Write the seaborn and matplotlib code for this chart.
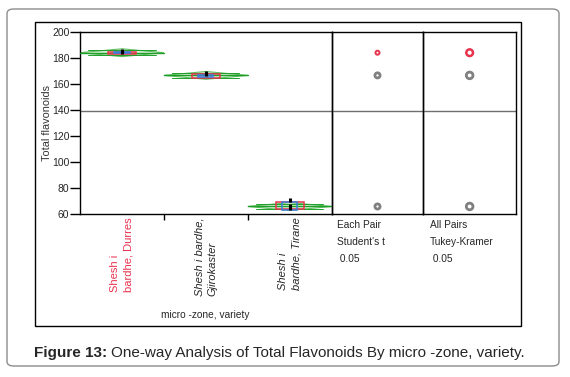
import numpy as np
import pandas as pd
import matplotlib
matplotlib.use("Agg")
import matplotlib.pyplot as plt
import seaborn as sns
from matplotlib.patches import Polygon, Rectangle, FancyBboxPatch

# ---------------- data ----------------
groups = ["Shesh i\nbardhe, Durres", "Shesh i bardhe,\nGjirokaster", "Shesh i\nbardhe, Tirane"]
means = [183.9, 166.5, 66.0]
ci_half = [3.0, 3.0, 3.0]
box_q1 = [183.0, 164.7, 63.8]
box_q3 = [184.7, 167.3, 69.7]
err_lo = [183.3, 165.5, 63.2]
err_hi = [184.6, 166.5, 69.2]
pt_group = [0, 0, 1, 1, 2, 2, 2]
pt_value = [184.8, 185.2, 167.6, 168.2, 70.8, 65.2, 66.2]
grand_mean = 139.0
yticks = [60, 80, 100, 120, 140, 160, 180, 200]
compare_titles = [["Each Pair", "Student's t", " 0.05"], ["All Pairs", "Tukey-Kramer", " 0.05"]]
selected = 0

RED = "#e8334f"
GRAY = "#808080"
BLUE = "#3c7ddc"
GREEN = "#1f9e2a"
LGREEN = "#d6efd6"
MGREEN = "#62bf62"

sns.set_style("white")
plt.rcParams["font.family"] = ["Liberation Sans", "DejaVu Sans"]

W, H = 570, 377
fig = plt.figure(figsize=(W / 100, H / 100), dpi=100)

def px_rect(x0, y0, x1, y1):
    return [x0 / W, 1 - y1 / H, (x1 - x0) / W, (y1 - y0) / H]

# caption frame
frame = FancyBboxPatch((7 / W, 1 - 366 / H), (559 - 7) / W, (366 - 9) / H,
                       boxstyle="round,pad=0,rounding_size=0.012",
                       transform=fig.transFigure, facecolor="white",
                       edgecolor="#8c8c8c", lw=1.0, zorder=-2)
fig.patches.append(frame)
# chart box
fig.patches.append(Rectangle((34.5 / W, 1 - 326 / H), (521 - 34.5) / W, (326 - 21.7) / H,
                             transform=fig.transFigure, fill=False, edgecolor="black", lw=1.0, zorder=-1))

ax = fig.add_axes(px_rect(80, 31.7, 331.7, 214.3))
ax1 = fig.add_axes(px_rect(331.7, 31.7, 423.3, 214.3))
ax2 = fig.add_axes(px_rect(423.3, 31.7, 516, 214.3))

for a in (ax, ax1, ax2):
    a.set_ylim(60, 200)
    a.patch.set_alpha(0)
    for s in a.spines.values():
        s.set_visible(True)
        s.set_color("black")
        s.set_linewidth(1.0)
    a.axhline(grand_mean, color="#6e6e6e", lw=1.0, zorder=1)

# ---------------- main panel ----------------
ax.set_xlim(0, 3)
for i, m in enumerate(means):
    c = ci_half[i]
    diamond = Polygon([[i, m], [i + 0.5, m + c], [i + 1, m], [i + 0.5, m - c]],
                      closed=True, facecolor=LGREEN, edgecolor=MGREEN, lw=0.8, zorder=2)
    ax.add_patch(diamond)
    ov = c / np.sqrt(2)
    ax.plot([i + 0.1, i + 0.9], [m + ov, m + ov], color=GREEN, lw=0.7, zorder=3)
    ax.plot([i + 0.1, i + 0.9], [m - ov, m - ov], color=GREEN, lw=0.7, zorder=3)
    ax.plot([i, i + 1], [m, m], color=GREEN, lw=1.0, zorder=3)
    # box
    ax.add_patch(Rectangle((i + 0.5 - 0.165, box_q1[i]), 0.33, box_q3[i] - box_q1[i],
                           fill=False, edgecolor=RED, lw=1.1, zorder=4))
    # blue error bar
    ax.add_patch(Rectangle((i + 0.5 - 0.09, err_lo[i]), 0.18, err_hi[i] - err_lo[i],
                           fill=False, edgecolor=BLUE, lw=1.1, zorder=5))

pts = pd.DataFrame({"x": [g + 0.5 for g in pt_group], "y": pt_value})
sns.scatterplot(data=pts, x="x", y="y", ax=ax, marker="|", s=12, color="black",
                linewidth=2.2, zorder=6, legend=False)

ax.set_xticks([1, 2])
ax.set_xticklabels([])
ax.tick_params(axis="x", which="major", direction="out", length=4, width=1, color="black", bottom=True)
ax.set_xticks([0.5, 1.5, 2.5], minor=True)
ax.set_xticklabels(groups, minor=True, rotation=90, fontsize=8)
ax.tick_params(axis="x", which="minor", length=0, pad=2)
for j, lab in enumerate(ax.get_xticklabels(minor=True)):
    lab.set_va("top")
    lab.set_ha("center")
    lab.set_multialignment("left")
    lab.set_linespacing(1.45)
    if j == selected:
        lab.set_color(RED)
    else:
        lab.set_style("italic")

ax.set_yticks(yticks)
ax.set_yticklabels([str(v) for v in yticks], fontsize=7.5)
ax.tick_params(axis="y", direction="out", length=7, width=1, color="black", left=True, pad=0.6)
ax.set_xlabel("")
ax.set_ylabel("")

fig.text(46.5 / W, 1 - 123 / H, "Total flavonoids", rotation=90, ha="center", va="center",
         fontsize=7.8, color="#333333")
fig.text(205.7 / W, 1 - 315 / H, "micro -zone, variety", ha="center", va="center", fontsize=7.3)

# ---------------- comparison panels ----------------
sizes = [(2.9, 3.7), (4.8, 4.8)]
widths = [(1.4, 2.0), (1.8, 2.0)]
for k, a in enumerate((ax1, ax2)):
    a.set_xlim(0, 1)
    a.set_xticks([])
    a.set_yticks([])
    for i in range(len(means)):
        col = RED if i == selected else GRAY
        ms = sizes[k][0] if i == selected else sizes[k][1]
        lw = widths[k][0] if i == selected else widths[k][1]
        sns.scatterplot(x=[0.5], y=[means[i]], ax=a, marker="o", s=ms ** 2,
                        facecolor="none", edgecolor=col, linewidth=lw, zorder=5, legend=False)
    a.set_xlabel("")
    a.set_ylabel("")

xs = [337.3, 430]
for k, lines in enumerate(compare_titles):
    for r, t in enumerate(lines):
        fig.text(xs[k] / W, 1 - [225, 242.3, 259][r] / H, t, ha="left", va="center", fontsize=7.3)

# ---------------- caption ----------------
cap_y = 1 - 353 / H
t1 = fig.text(34 / W, cap_y, "Figure 13:", ha="left", va="center", fontsize=11, fontweight="bold")
fig.canvas.draw()
bb = t1.get_window_extent(renderer=fig.canvas.get_renderer())
fig.text((bb.x1 + 3.5) / W, cap_y, "One-way Analysis of Total Flavonoids By micro -zone, variety.",
         ha="left", va="center", fontsize=11)

fig.savefig("out.png", dpi=100)
